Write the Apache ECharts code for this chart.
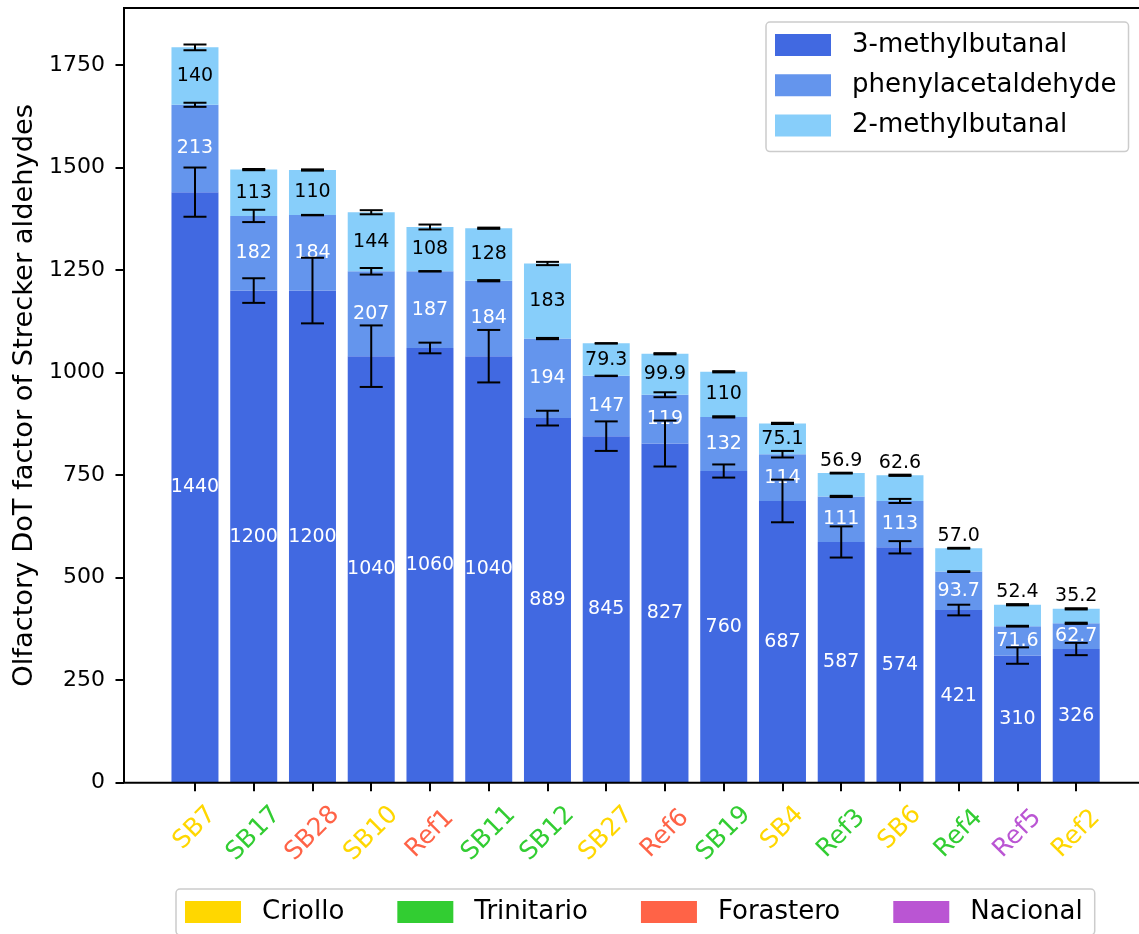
<!DOCTYPE html>
<html>
<head>
<meta charset="utf-8">
<script src="https://cdn.jsdelivr.net/npm/echarts@6/dist/echarts.min.js"></script>
<style>
  html, body { margin: 0; padding: 0; background: #ffffff; }
  #chart { width: 1139px; height: 934px; }
</style>
</head>
<body>
<div id="chart"></div>
<script>
// Samples, ordered by total Strecker aldehyde DoT factor
const samples = ['SB7', 'SB17', 'SB28', 'SB10', 'Ref1', 'SB11', 'SB12', 'SB27',
                 'Ref6', 'SB19', 'SB4', 'Ref3', 'SB6', 'Ref4', 'Ref5', 'Ref2'];
const varieties = ['Criollo', 'Trinitario', 'Forastero', 'Criollo', 'Forastero', 'Trinitario',
                   'Trinitario', 'Criollo', 'Forastero', 'Trinitario', 'Criollo', 'Trinitario',
                   'Criollo', 'Trinitario', 'Nacional', 'Criollo'];

// DoT factors per aldehyde
const methylbutanal3 = [1440, 1200, 1200, 1040, 1060, 1040, 889, 845, 827, 760, 687, 587, 574, 421, 310, 326];
const phenylacetaldehyde = [213, 182, 184, 207, 187, 184, 194, 147, 119, 132, 114, 111, 113, 93.7, 71.6, 62.7];
const methylbutanal2 = [140, 113, 110, 144, 108, 128, 183, 79.3, 99.9, 110, 75.1, 56.9, 62.6, 57.0, 52.4, 35.2];

// Standard deviations per aldehyde
const sd3mb = [60, 30, 80, 75, 13, 64, 18, 36, 56, 16, 52, 38, 15, 13, 20, 15];
const sdPhenyl = [5, 15, 0.5, 8, 0.5, 1.5, 1.5, 0.5, 6, 1.5, 8, 1.5, 5, 1, 1, 1.5];
const sd2mb = [7, 1.5, 1.5, 5, 6, 1.5, 4, 0.5, 1.5, 1.5, 1.5, 1, 1.5, 1, 1.5, 1.5];

const yTicks = [0, 250, 500, 750, 1000, 1250, 1500, 1750];
const varietyNames = ['Criollo', 'Trinitario', 'Forastero', 'Nacional'];

const FONT = 'DejaVu Sans';
const compoundColors = ['#4169E1', '#6495ED', '#87CEFA'];
const varietyColors = { Criollo: '#FFD700', Trinitario: '#32CD32', Forastero: '#FF6347', Nacional: '#BA55D3' };

function fmt(v) {
  return v >= 100 ? String(Math.round(v)) : v.toFixed(1);
}

// Error bar data: [category index, cumulative top of segment, sd]
const errData = [];
samples.forEach((s, i) => {
  const t1 = methylbutanal3[i];
  const t2 = t1 + phenylacetaldehyde[i];
  const t3 = t2 + methylbutanal2[i];
  errData.push([i, t1, sd3mb[i]]);
  errData.push([i, t2, sdPhenyl[i]]);
  errData.push([i, t3, sd2mb[i]]);
});

// Rich styles for coloured sample labels (short names get nudged so all sit alike)
const LABEL_SIZE = 25;
const rich = {};
varietyNames.forEach(v => {
  rich[v] = { color: varietyColors[v], fontSize: LABEL_SIZE, fontFamily: FONT };
  rich[v + 'S'] = { color: varietyColors[v], fontSize: LABEL_SIZE, fontFamily: FONT, padding: [0, 0, 8, 8] };
});

const labelBase = { show: true, fontSize: 19, fontFamily: FONT };

const series = [
  {
    name: '3-methylbutanal', type: 'bar', stack: 'total', barWidth: '80%',
    itemStyle: { color: compoundColors[0] },
    label: Object.assign({}, labelBase, { position: 'inside', color: '#ffffff', formatter: p => fmt(p.value) }),
    data: methylbutanal3.slice(), z: 2
  },
  {
    name: 'phenylacetaldehyde', type: 'bar', stack: 'total', barWidth: '80%',
    itemStyle: { color: compoundColors[1] },
    label: Object.assign({}, labelBase, { position: 'inside', color: '#ffffff', formatter: p => fmt(p.value) }),
    data: phenylacetaldehyde.slice(), z: 2
  },
  {
    name: '2-methylbutanal', type: 'bar', stack: 'total', barWidth: '80%',
    itemStyle: { color: compoundColors[2] },
    label: Object.assign({}, labelBase, { position: 'inside', color: '#000000', formatter: p => fmt(p.value) }),
    data: methylbutanal2.map(v => v < 70 ? { value: v, label: { position: 'top', distance: 3 } } : v),
    z: 2
  },
  {
    type: 'custom', name: 'sd', silent: true, z: 10,
    data: errData,
    encode: { x: 0, y: 1 },
    renderItem: function (params, api) {
      const x = api.value(0), top = api.value(1), e = api.value(2);
      const hi = api.coord([x, top + e]);
      const lo = api.coord([x, top - e]);
      const cap = 11.5;
      const st = { stroke: '#000000', lineWidth: 2 };
      return {
        type: 'group',
        children: [
          { type: 'line', shape: { x1: hi[0], y1: hi[1], x2: lo[0], y2: lo[1] }, style: st },
          { type: 'line', shape: { x1: hi[0] - cap, y1: hi[1], x2: hi[0] + cap, y2: hi[1] }, style: st },
          { type: 'line', shape: { x1: lo[0] - cap, y1: lo[1], x2: lo[0] + cap, y2: lo[1] }, style: st }
        ]
      };
    }
  }
];

// Empty series so the variety legend gets its swatches
varietyNames.forEach(v => {
  series.push({ name: v, type: 'line', data: [], itemStyle: { color: varietyColors[v] }, lineStyle: { color: varietyColors[v] } });
});

const legendCommon = {
  icon: 'rect', itemWidth: 56, itemHeight: 22,
  borderColor: '#cccccc', borderWidth: 1.5, borderRadius: 4,
  backgroundColor: 'rgba(255,255,255,0.8)',
  textStyle: { fontSize: 26, lineHeight: 26, fontFamily: FONT, color: '#000000', padding: [0, 0, 0, 16] },
  selectedMode: false
};

const option = {
  animation: false,
  backgroundColor: '#ffffff',
  grid: [
    { left: 165.6, width: 940, top: 8, bottom: 151.3, containLabel: false, outerBoundsMode: 'none' },
    { left: 124, width: 1022, top: 8, bottom: 151.3, show: true, borderColor: '#000000', borderWidth: 2,
      backgroundColor: 'rgba(0,0,0,0)', z: 20, outerBoundsMode: 'none' }
  ],
  legend: [
    Object.assign({}, legendCommon, {
      orient: 'vertical', left: 766, top: 22, itemGap: 14.3, padding: [10, 12, 13, 9],
      data: ['3-methylbutanal', 'phenylacetaldehyde', '2-methylbutanal']
    }),
    Object.assign({}, legendCommon, {
      orient: 'horizontal', left: 176, top: 889, itemGap: 53, padding: [10, 12, 10, 9],
      data: varietyNames
    })
  ],
  xAxis: [
    {
      type: 'category', gridIndex: 0, data: samples,
      axisLine: { show: false },
      axisTick: { show: true, alignWithLabel: true, length: 8.5, lineStyle: { color: '#000000', width: 2 } },
      axisLabel: {
        interval: 0, rotate: 45, align: 'center', verticalAlign: 'middle', margin: 51,
        fontSize: LABEL_SIZE, fontFamily: FONT,
        formatter: function (value, idx) {
          const v = varieties[idx];
          const key = value.length <= 3 ? v + 'S' : v;
          return '{' + key + '|' + value + '}';
        },
        rich: rich
      },
      splitLine: { show: false }
    },
    { type: 'value', gridIndex: 1, show: false, min: 0, max: 1 }
  ],
  yAxis: [
    {
      type: 'value', gridIndex: 0, min: 0, max: 1889, offset: 41.6,
      axisLine: { show: false },
      axisTick: { show: true, length: 8.5, lineStyle: { color: '#000000', width: 2 }, customValues: yTicks },
      axisLabel: { customValues: yTicks, fontSize: 22, fontFamily: FONT, color: '#000000', margin: 19,
                   formatter: v => String(v) },
      splitLine: { show: false },
      name: 'Olfactory DoT factor of Strecker aldehydes',
      nameLocation: 'middle', nameGap: 71,
      nameTextStyle: { fontSize: 27.3, fontFamily: FONT, color: '#000000' }
    },
    { type: 'value', gridIndex: 1, show: false, min: 0, max: 1 }
  ],
  series: series
};

const chart = echarts.init(document.getElementById('chart'), null, { renderer: 'canvas' });
chart.setOption(option);
</script>
</body>
</html>
